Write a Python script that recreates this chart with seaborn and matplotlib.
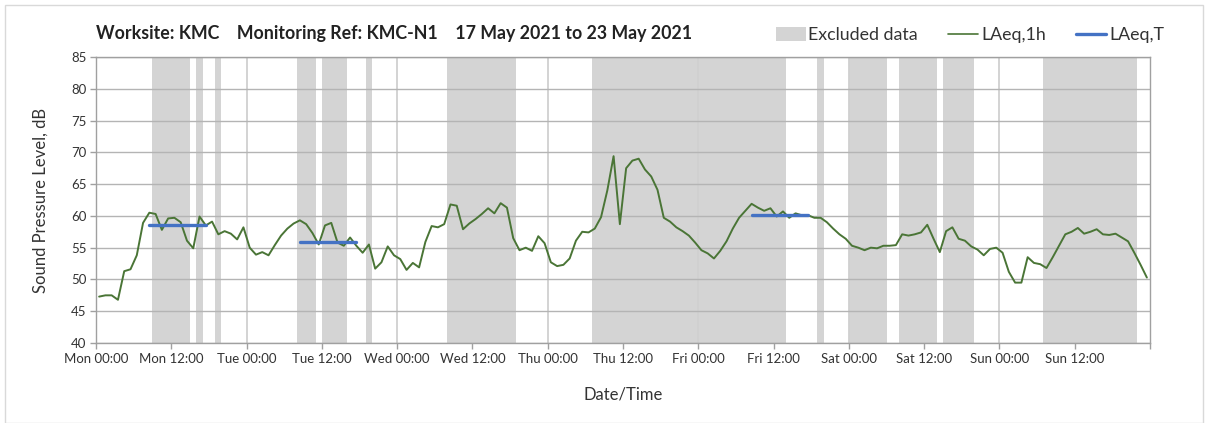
import matplotlib
matplotlib.use("Agg")
import matplotlib.pyplot as plt
import seaborn as sns
import pandas as pd
import numpy as np
from matplotlib.patches import Patch, Rectangle
from matplotlib.lines import Line2D

# ---------------- data ----------------
title_text = "Worksite: KMC    Monitoring Ref: KMC-N1    17 May 2021 to 23 May 2021"
tick_labels = ["Mon 00:00", "Mon 12:00", "Tue 00:00", "Tue 12:00", "Wed 00:00",
               "Wed 12:00", "Thu 00:00", "Thu 12:00", "Fri 00:00", "Fri 12:00",
               "Sat 00:00", "Sat 12:00", "Sun 00:00", "Sun 12:00"]

# hourly LAeq,1h values, plotted at the middle of each hour (hours since Mon 00:00)
laeq_1h = [
    47.3, 47.5, 47.5, 46.8, 51.3, 51.6, 53.8, 58.9, 60.5, 60.3,
    57.8, 59.6, 59.7, 59.0, 56.1, 54.9, 59.9, 58.5, 59.1, 57.1,
    57.6, 57.2, 56.3, 58.2, 55.0, 53.9, 54.3, 53.8, 55.4, 56.9,
    58.0, 58.8, 59.3, 58.7, 57.3, 55.5, 58.5, 58.9, 55.8, 55.3,
    56.6, 55.3, 54.2, 55.5, 51.7, 52.7, 55.2, 53.8, 53.2, 51.5,
    52.6, 51.9, 55.9, 58.4, 58.2, 58.7, 61.8, 61.6, 57.9, 58.8,
    59.5, 60.3, 61.2, 60.4, 62.0, 61.3, 56.5, 54.6, 55.0, 54.5,
    56.8, 55.7, 52.7, 52.1, 52.3, 53.3, 56.1, 57.5, 57.4, 58.0,
    59.8, 64.0, 69.4, 58.7, 67.5, 68.7, 69.0, 67.3, 66.2, 64.1,
    59.7, 59.1, 58.2, 57.6, 56.9, 55.8, 54.6, 54.1, 53.3, 54.5,
    56.0, 58.0, 59.7, 60.8, 61.9, 61.3, 60.8, 61.2, 59.9, 60.7,
    59.7, 60.4, 60.1, 60.1, 59.7, 59.7, 59.0, 58.0, 57.1, 56.4,
    55.3, 55.0, 54.6, 55.0, 54.9, 55.3, 55.3, 55.4, 57.1, 56.9,
    57.1, 57.4, 58.6, 56.4, 54.3, 57.6, 58.2, 56.4, 56.1, 55.2,
    54.7, 53.8, 54.8, 55.0, 54.2, 51.2, 49.5, 49.5, 53.5, 52.6,
    52.4, 51.8, 53.5, 55.3, 57.1, 57.5, 58.1, 57.2, 57.5, 57.9,
    57.1, 57.0, 57.2, 56.6, 56.0, 54.2, 52.3, 50.3,
]

# excluded-data periods (hours since Mon 00:00)
excl_start = [9, 16, 19, 32, 36, 43, 56, 79, 115, 120, 128, 135, 151]
excl_end = [15, 17, 20, 35, 40, 44, 67, 110, 116, 126, 134, 140, 166]

# LAeq,T periods
lt_start = [8.5, 32.5, 104.5]
lt_end = [17.5, 41.5, 113.5]
lt_value = [58.6, 55.9, 60.1]

# ---------------- styling ----------------
GREEN = "#4a7536"
BLUE = "#4472c4"
BAND = "#d4d4d4"
FONT = ["Lato", "DejaVu Sans"]

sns.set_theme(style="white")
plt.rcParams["font.family"] = FONT

fig = plt.figure(figsize=(12.08, 4.23), dpi=100)
ax = fig.add_axes([96 / 1208, 1 - 343 / 423, (1150 - 96) / 1208, (343 - 57) / 423])

df = pd.DataFrame({"hour": np.arange(len(laeq_1h)) + 0.5, "LAeq,1h": laeq_1h})

for s, e in zip(excl_start, excl_end):
    ax.axvspan(s, e, color=BAND, lw=0, zorder=0)

# grid
for y in range(40, 86, 5):
    ax.axhline(y, color="#b4b4b4", lw=1.0, zorder=1)
for d in range(24, 168, 24):
    ax.axvline(d, color="#d0d0d0", lw=1.3, zorder=0.5)

sns.lineplot(data=df, x="hour", y="LAeq,1h", ax=ax, color=GREEN, lw=1.4, zorder=3)

lt_df = pd.DataFrame({
    "hour": [v for s, e in zip(lt_start, lt_end) for v in (s, e)],
    "val": [v for v in lt_value for _ in range(2)],
    "seg": [i for i in range(len(lt_value)) for _ in range(2)],
})
sns.lineplot(data=lt_df, x="hour", y="val", units="seg", estimator=None,
             ax=ax, color=BLUE, lw=2.4, zorder=4)

ax.set_xlim(0, 168)
ax.set_ylim(40, 85)
ax.set_yticks(range(40, 86, 5))
ax.set_xticks(np.arange(0, 169, 12))
ax.set_xticklabels(tick_labels + [""])
ax.tick_params(axis="x", which="both", direction="out", length=4, width=1,
               color="#a0a0a0", labelsize=9.5, pad=3, bottom=True)
ax.tick_params(axis="y", length=4, width=1, color="#a0a0a0", labelsize=9.5,
               pad=3, left=True, direction="out")
for sp in ax.spines.values():
    sp.set_color("#a0a0a0")
    sp.set_linewidth(1.0)
    sp.set_visible(True)
ax.set_xlabel("Date/Time", fontsize=12, labelpad=16)
ax.set_ylabel("Sound Pressure Level, dB", fontsize=12, labelpad=16)
ax.xaxis.label.set_color("#333333")
ax.yaxis.label.set_color("#333333")
for t in ax.get_xticklabels() + ax.get_yticklabels():
    t.set_color("#333333")

fig.text(96 / 1208, 1 - 34 / 423, title_text, fontsize=12.8, fontweight="bold",
         ha="left", va="center", color="#222222")

handles = [Patch(facecolor=BAND, edgecolor="none", label="Excluded data"),
           Line2D([], [], color=GREEN, lw=1.2, label="LAeq,1h"),
           Line2D([], [], color=BLUE, lw=2.4, label="LAeq,T")]
leg = fig.legend(handles=handles, loc="center right",
                 bbox_to_anchor=(1180 / 1208, 1 - 35 / 423), ncol=3,
                 frameon=False, fontsize=12.8, handlelength=1.7, handletextpad=0.15,
                 columnspacing=1.7, handleheight=0.8)
for t in leg.get_texts():
    t.set_color("#333333")

fig.patches.append(Rectangle((5 / 1208, 0), 1 - 10 / 1208, 1 - 5 / 423,
                             transform=fig.transFigure, fill=False,
                             edgecolor="#d9d9d9", lw=1.0))

fig.savefig("out.png", dpi=100)
